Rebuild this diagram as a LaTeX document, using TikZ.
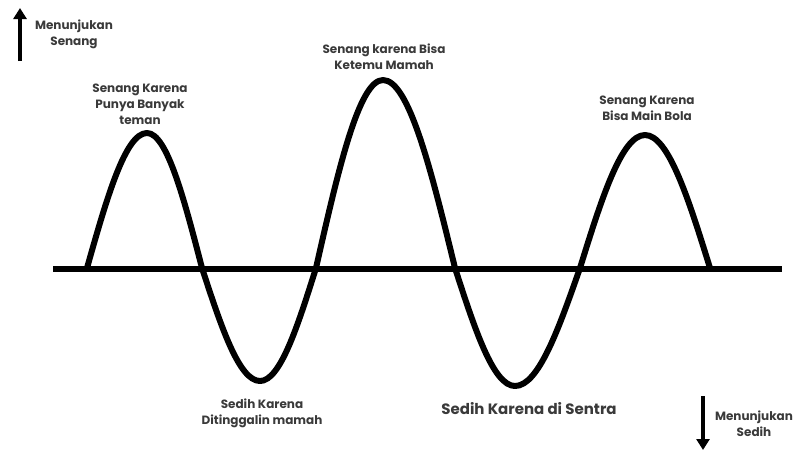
\documentclass[tikz,border=0pt]{standalone}
\usepackage{fontspec}
\setmainfont{Poppins}
\usetikzlibrary{arrows.meta}
\definecolor{txt}{HTML}{3A3A3A}
\tikzset{
  lbl/.style={align=center, text=txt, font=\fontsize{12}{16}\selectfont\bfseries, inner sep=0pt},
  biglbl/.style={align=center, text=txt, font=\fontsize{15}{18}\selectfont\bfseries, inner sep=0pt},
  wave/.style={line width=6pt, line join=round},
  dirarrow/.style={line width=3.3pt, -{Triangle[width=13pt,length=11pt]}}
}
\begin{document}
\begin{tikzpicture}[x=1pt,y=-1pt]
\useasboundingbox[fill=white] (0,0) rectangle (797,451);
% axis
\coordinate (axL) at (53,268.5);
\coordinate (axR) at (782,268.5);
\draw[line width=6pt] (axL) -- (axR);
% wave
\draw[wave] (87,268) sin (147,133) cos (202,268) sin (260,381) cos (316,268)
  sin (383,80) cos (455,268) sin (515,386) cos (580,268) sin (645,135) cos (710,268);
% arrows
\coordinate (upS) at (20,61);
\coordinate (upE) at (20,8);
\draw[dirarrow] (upS) -- (upE);
\coordinate (dnS) at (703,396);
\coordinate (dnE) at (703,450);
\draw[dirarrow] (dnS) -- (dnE);
% labels
\node[lbl] (senang) at (74,34) {Menunjukan\\Senang};
\node[lbl] (sedih) at (754,424) {Menunjukan\\Sedih};
\node[lbl] (p1) at (140,104) {Senang Karena\\Punya Banyak\\teman};
\node[lbl] (p2) at (384,57) {Senang karena Bisa\\Ketemu Mamah};
\node[lbl] (p3) at (647,108) {Senang Karena\\Bisa Main Bola};
\node[lbl] (t1) at (262,413) {Sedih Karena\\Ditinggalin mamah};
\node[biglbl] (t2) at (529,409) {Sedih Karena di Sentra};
\end{tikzpicture}
\end{document}
